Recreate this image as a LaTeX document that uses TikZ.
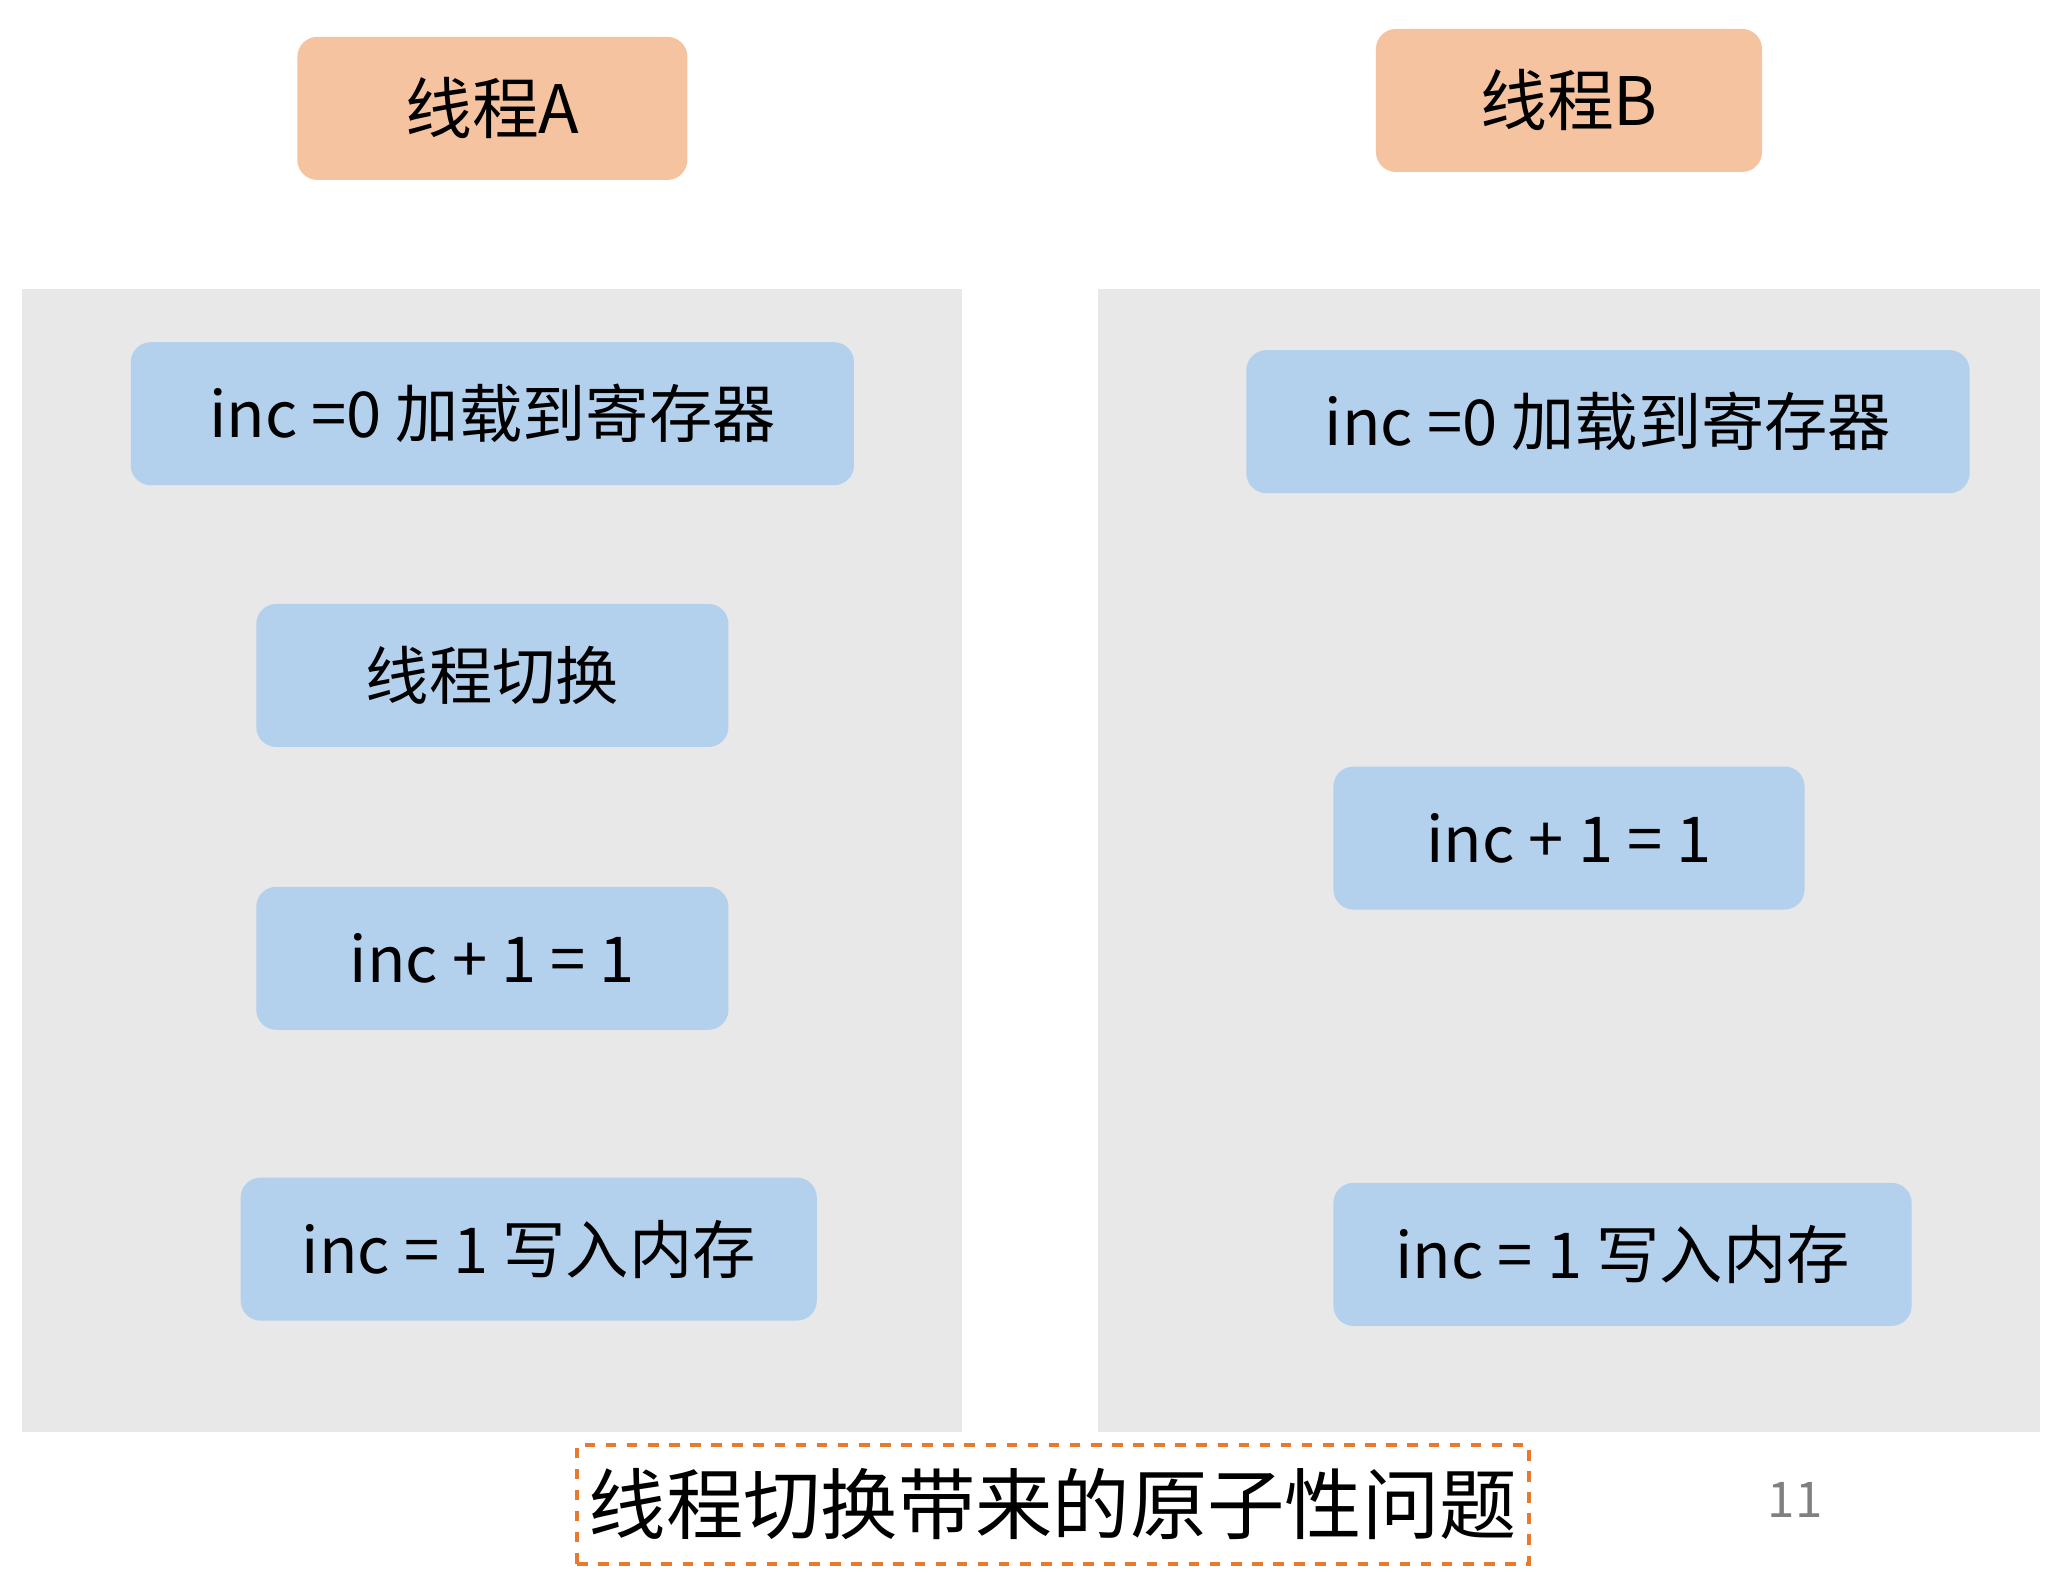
\documentclass[tikz,border=0pt]{standalone}
\usepackage{fontspec}
\setmainfont{Noto Sans CJK SC}
\definecolor{peach}{HTML}{F5C39F}
\definecolor{stepblue}{HTML}{B3D0EC}
\definecolor{panelgray}{HTML}{E8E8E8}
\definecolor{capline}{HTML}{E87A2E}
\begin{document}
\begin{tikzpicture}[x=0.01322cm,y=-0.01322cm]
        \tikzset{
            threadbox/.style={rounded corners=0.2cm, fill=peach, minimum height=1.43cm, font=\fontsize{19}{22}\selectfont},
            stepbox/.style={rounded corners=0.2cm, fill=stepblue, minimum height=1.43cm, font=\fontsize{18}{22}\selectfont},
            panel/.style={fill=panelgray}
        }
        \useasboundingbox (0,0) rectangle (1560,1190);

        \fill[panel] (17,219) rectangle (728,1083);
        \fill[panel] (831,219) rectangle (1543,1083);

        \node[threadbox, minimum width=3.90cm] (tA) at (372.5,82) {线程A};
        \node[threadbox, minimum width=3.86cm] (tB) at (1187,76) {线程B};

        \node[stepbox, minimum width=7.23cm] (a1) at (372.5,313) {inc =0 加载到寄存器};
        \node[stepbox, minimum width=4.72cm] (a2) at (372.5,511) {线程切换};
        \node[stepbox, minimum width=4.72cm] (a3) at (372.5,725) {inc + 1 = 1};
        \node[stepbox, minimum width=5.76cm] (a4) at (400,945) {inc = 1 写入内存};

        \node[stepbox, minimum width=7.23cm] (b1) at (1216.5,319) {inc =0 加载到寄存器};
        \node[stepbox, minimum width=4.71cm] (b2) at (1187,634) {inc + 1 = 1};
        \node[stepbox, minimum width=5.78cm] (b3) at (1227.5,949) {inc = 1 写入内存};

        \node[draw=capline, dashed, line width=1.2pt, minimum width=9.35cm, minimum height=1.19cm,
              font=\fontsize{22}{26}\selectfont] (cap) at (796.5,1138) {线程切换带来的原子性问题};
        \node[text=gray, font=\fontsize{14}{16}\selectfont] (pg) at (1358,1135) {11};
    \end{tikzpicture}
\end{document}
